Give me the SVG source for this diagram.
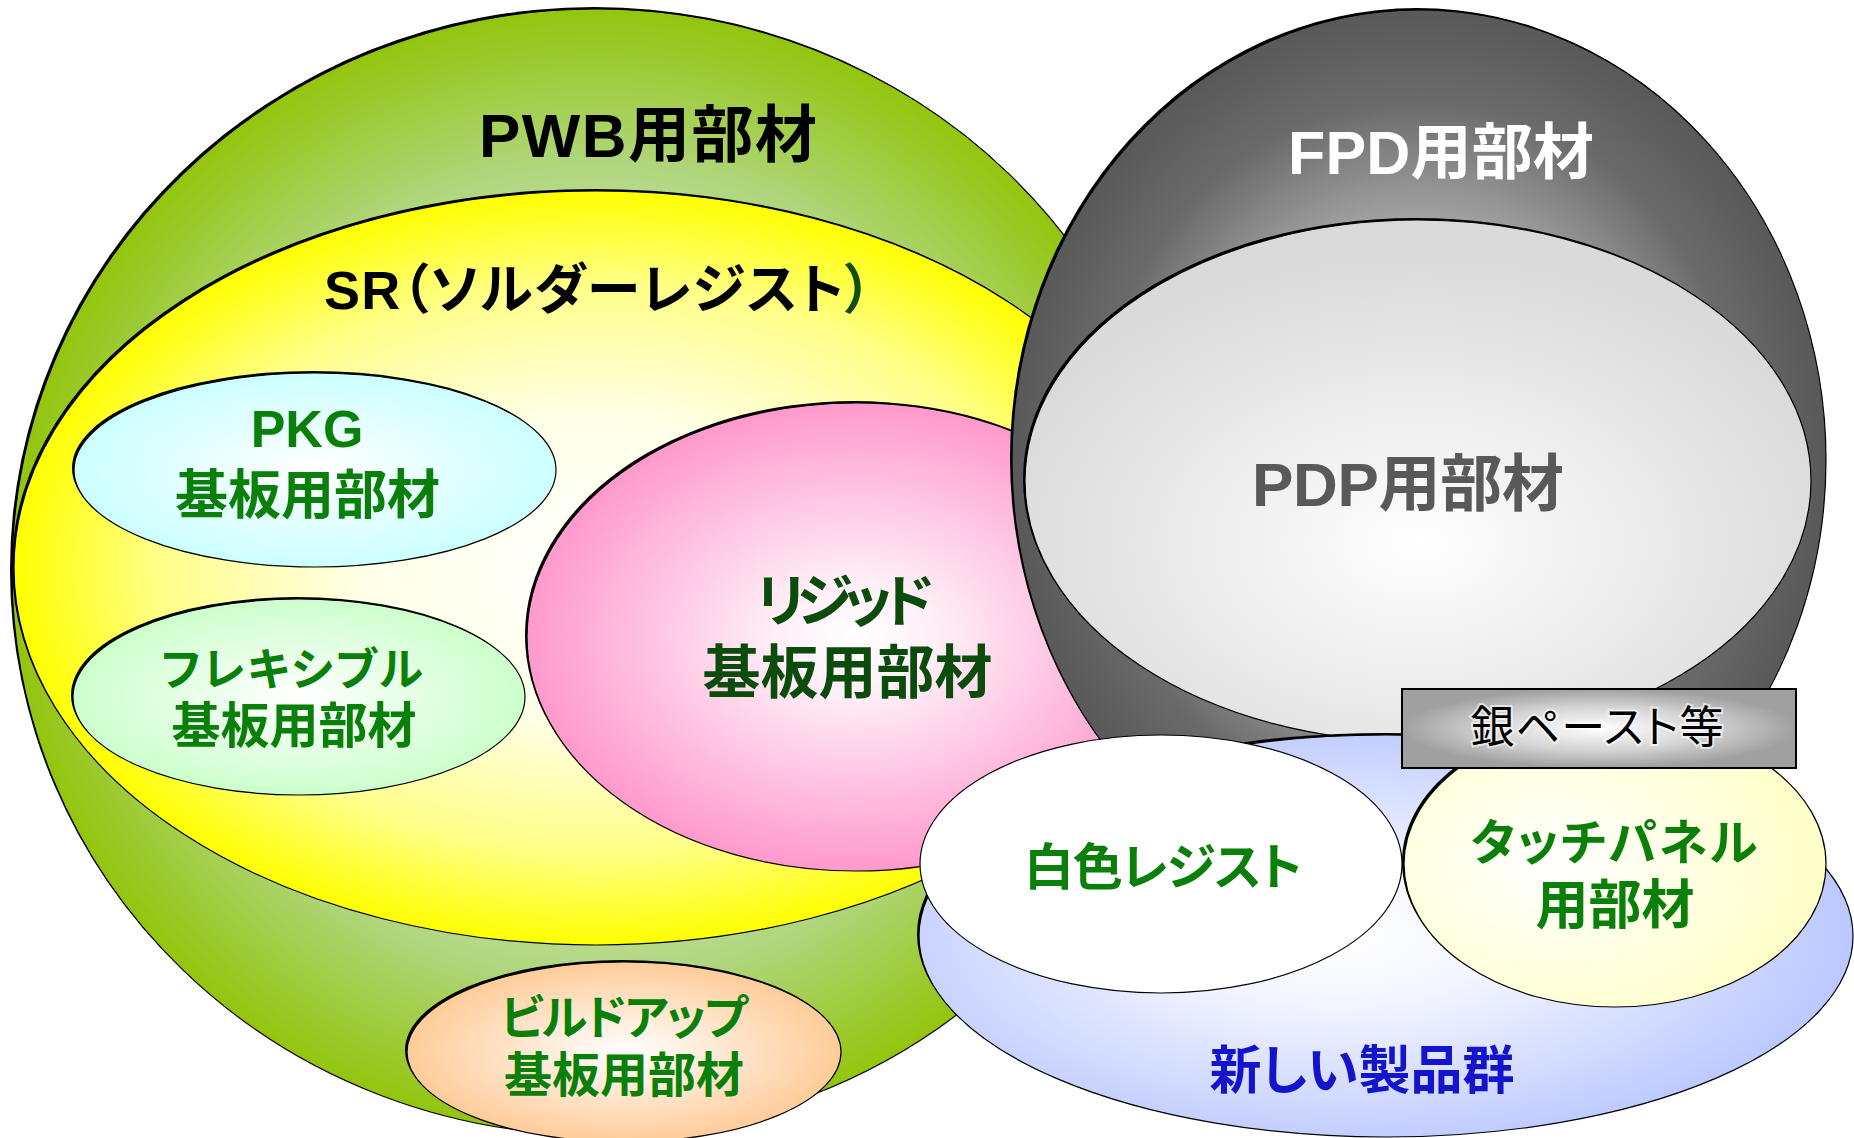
<svg xmlns="http://www.w3.org/2000/svg" width="1854" height="1138" viewBox="0 0 1854 1138">
<style>
.sh{fill:#000}
.ol{stroke:#000;stroke-width:1.2}
text{font-family:"Liberation Sans","Noto Sans CJK JP",sans-serif;font-weight:bold;text-anchor:middle;font-feature-settings:"palt"}
text.reg{font-weight:normal}
.g{fill:#0a800a}
.dg{fill:#0b4b0b}
.k{fill:#000}
</style>
<defs>
<radialGradient id="gPWB"><stop offset="0" stop-color="#ffffff"/><stop offset="0.55" stop-color="#c6e2a4"/><stop offset="0.72" stop-color="#b0d67e"/><stop offset="1" stop-color="#93c50e"/></radialGradient>
<radialGradient id="gSR"><stop offset="0" stop-color="#ffffff"/><stop offset="0.4" stop-color="#ffffe8"/><stop offset="0.75" stop-color="#ffff88"/><stop offset="1" stop-color="#ffff00"/></radialGradient>
<radialGradient id="gPKG"><stop offset="0" stop-color="#ffffff"/><stop offset="1" stop-color="#ccffff"/></radialGradient>
<radialGradient id="gFLX"><stop offset="0" stop-color="#ffffff"/><stop offset="1" stop-color="#ccffcc"/></radialGradient>
<radialGradient id="gRIG"><stop offset="0" stop-color="#ffffff"/><stop offset="0.25" stop-color="#ffeef6"/><stop offset="1" stop-color="#ff99cc"/></radialGradient>
<radialGradient id="gBLD"><stop offset="0" stop-color="#ffffff"/><stop offset="1" stop-color="#ffcc99"/></radialGradient>
<radialGradient id="gFPD"><stop offset="0" stop-color="#eeeeee"/><stop offset="0.5" stop-color="#aaaaaa"/><stop offset="0.8" stop-color="#6a6a6a"/><stop offset="1" stop-color="#595959"/></radialGradient>
<radialGradient id="gPDP" cx="0.5" cy="0.62" r="0.55"><stop offset="0" stop-color="#ffffff"/><stop offset="1" stop-color="#dadada"/></radialGradient>
<radialGradient id="gNEW" cx="0.45" cy="0.5" r="0.55"><stop offset="0" stop-color="#ffffff"/><stop offset="0.3" stop-color="#f4f6ff"/><stop offset="1" stop-color="#bbc8ff"/></radialGradient>
<radialGradient id="gTCH" cx="0.35" cy="0.5" r="0.6"><stop offset="0" stop-color="#ffffff"/><stop offset="1" stop-color="#ffffcc"/></radialGradient>
<radialGradient id="gBOX"><stop offset="0" stop-color="#ffffff"/><stop offset="0.55" stop-color="#d4d4d4"/><stop offset="1" stop-color="#a0a0a0"/></radialGradient>
</defs>

<g id="pwb">
<ellipse class="sh" cx="594" cy="570" rx="584" ry="563"/>
<ellipse class="ol" cx="596" cy="572" rx="584" ry="563" fill="url(#gPWB)"/>
<text class="k" x="648" y="157" font-size="62" textLength="338">PWB用部材</text>
</g>

<g id="sr">
<ellipse class="sh" cx="594" cy="566" rx="582" ry="377"/>
<ellipse class="ol" cx="596" cy="568" rx="582" ry="377" fill="url(#gSR)"/>
<text class="k" x="598" y="309" font-size="54" textLength="548">SR（ソルダーレジスト<tspan fill="#124d12">）</tspan></text>
</g>

<g id="pkg">
<ellipse class="sh" cx="313" cy="468" rx="241" ry="97"/>
<ellipse class="ol" cx="315" cy="470" rx="241" ry="97" fill="url(#gPKG)"/>
<text class="g" x="307" y="447" font-size="52">PKG</text>
<text class="g" x="307.5" y="514" font-size="53">基板用部材</text>
</g>

<g id="flex">
<ellipse class="sh" cx="297" cy="695" rx="226" ry="98"/>
<ellipse class="ol" cx="299" cy="697" rx="226" ry="98" fill="url(#gFLX)"/>
<text class="g" x="292" y="686" font-size="45" textLength="262">フレキシブル</text>
<text class="g" x="294" y="743" font-size="49">基板用部材</text>
</g>

<g id="rigid">
<ellipse class="sh" cx="854" cy="635" rx="329" ry="234"/>
<ellipse class="ol" cx="856" cy="637" rx="329" ry="234" fill="url(#gRIG)"/>
<text class="dg" x="845" y="621" font-size="57" textLength="178">リジッド</text>
<text class="dg" x="847.5" y="693" font-size="58">基板用部材</text>
</g>

<g id="buildup">
<ellipse class="sh" cx="622" cy="1050" rx="217" ry="90"/>
<ellipse class="ol" cx="624" cy="1052" rx="217" ry="90" fill="url(#gBLD)"/>
<text class="g" x="624" y="1034" font-size="47" textLength="247">ビルドアップ</text>
<text class="g" x="624" y="1092" font-size="48">基板用部材</text>
</g>

<g id="fpd">
<ellipse class="sh" cx="1417" cy="458" rx="407" ry="450"/>
<ellipse class="ol" cx="1419" cy="460" rx="407" ry="450" fill="url(#gFPD)"/>
<text fill="#ffffff" x="1441" y="174" font-size="61" textLength="306">FPD用部材</text>
</g>

<g id="pdp">
<ellipse class="sh" cx="1416" cy="479" rx="393" ry="261"/>
<ellipse class="ol" cx="1418" cy="481" rx="393" ry="261" fill="url(#gPDP)"/>
<text fill="#595959" x="1408" y="506" font-size="62" textLength="312">PDP用部材</text>
</g>

<g id="newproducts">
<ellipse class="sh" cx="1384" cy="934" rx="467" ry="201"/>
<ellipse class="ol" cx="1386" cy="936" rx="467" ry="201" fill="url(#gNEW)"/>
<text fill="#1414cc" x="1362" y="1089" font-size="52" textLength="305">新しい製品群</text>
</g>

<g id="whiteresist">
<ellipse class="ol" cx="1161" cy="864" rx="241" ry="129" fill="#ffffff"/>
<text class="g" x="1163" y="885" font-size="50" textLength="278">白色レジスト</text>
</g>

<g id="touchpanel">
<ellipse class="sh" cx="1613" cy="862" rx="211" ry="143"/>
<ellipse class="ol" cx="1615" cy="864" rx="211" ry="143" fill="url(#gTCH)"/>
<text class="g" x="1614" y="860" font-size="49" textLength="287">タッチパネル</text>
<text class="g" x="1615" y="924" font-size="53">用部材</text>
</g>

<g id="silverpaste">
<rect x="1402" y="689" width="394" height="79" fill="url(#gBOX)" stroke="#000" stroke-width="2"/>
<text class="reg" x="1597" y="743" font-size="44" fill="#000" stroke="#ffffff" stroke-width="4" stroke-opacity="0.6" paint-order="stroke" textLength="253">銀ペースト等</text>
</g>

<g id="connectors"></g>
</svg>
